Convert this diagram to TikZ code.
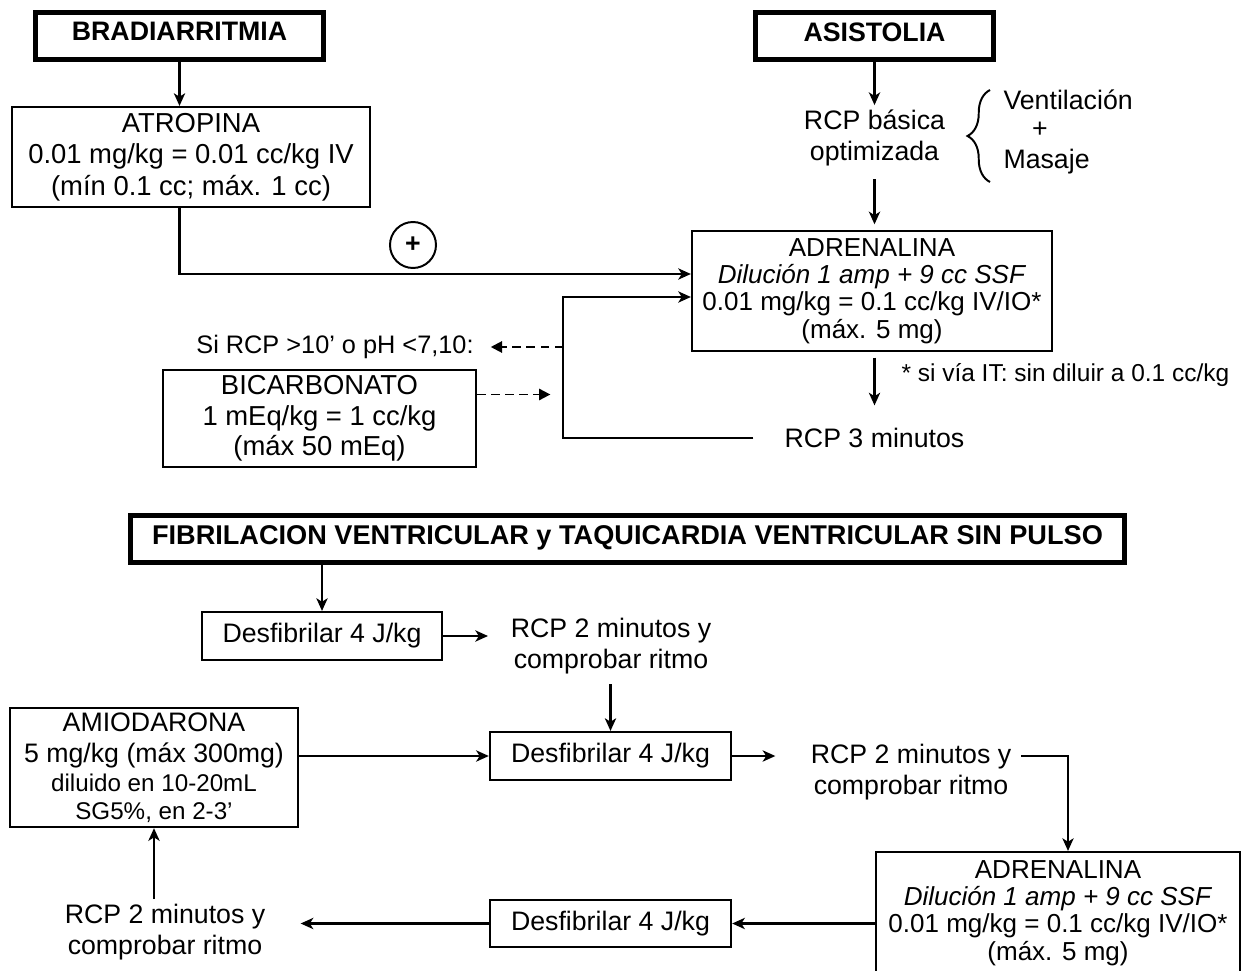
\documentclass[tikz,border=0pt]{standalone}
\usepackage{fontspec}
\setmainfont{Liberation Sans}
\usetikzlibrary{arrows.meta,calc,decorations.pathreplacing}

\tikzset{
	caja/.style={draw, line width=1.5pt, align=center, inner sep=2pt},
	titulo/.style={draw, line width=3.5pt, inner sep=2pt, font=\fontsize{19}{21}\selectfont\bfseries, text depth=6pt},
	texto/.style={align=center, inner sep=3pt},
	flecha/.style={line width=1.5pt, -{Stealth[length=9pt,width=8pt,inset=2.5pt]}},
	discont/.style={line width=1.4pt, dash pattern=on 6pt off 4pt, -{Triangle[length=8pt,width=8pt]}},
	linea/.style={line width=1.4pt},
}

\begin{document}
\begin{tikzpicture}[x=0.025cm, y=-0.025cm, font=\fontsize{19}{22.5}\selectfont]
		\useasboundingbox (0,0) rectangle (1242,971);

		\begin{scope}[every node/.style={titulo}]
			\node[minimum width=7.21cm, minimum height=1.175cm] (bradi) at (179.5,36) {BRADIARRITMIA};
			\node[minimum width=5.95cm, minimum height=1.175cm] (asis) at (874.5,36) {ASISTOLIA};
			\node[minimum width=24.85cm, minimum height=1.175cm, font=\fontsize{19.3}{21}\selectfont\bfseries] (fib) at (627.5,539) {FIBRILACION VENTRICULAR y TAQUICARDIA VENTRICULAR SIN PULSO};
		\end{scope}

		\begin{scope}[every node/.style={caja}]
			\node[minimum width=8.95cm, minimum height=2.5cm, font=\fontsize{19.5}{22.5}\selectfont] (atro) at (191,157) {ATROPINA\\0.01 mg/kg = 0.01 cc/kg IV\\(mín 0.1 cc; máx. 1 cc)};
			\node[minimum width=9cm, minimum height=3cm, font=\fontsize{18.5}{19.5}\selectfont] (adrA) at (872,291) {ADRENALINA\\\textit{Dilución 1 amp + 9 cc SSF}\\0.01 mg/kg = 0.1 cc/kg IV/IO*\\(máx. 5 mg)};
			\node[minimum width=7.83cm, minimum height=2.43cm, font=\fontsize{19.5}{21.5}\selectfont] (bica) at (319.5,418.5) {BICARBONATO\\1 mEq/kg = 1 cc/kg\\(máx 50 mEq)};
			\node[minimum width=6cm, minimum height=1.2cm] (desA) at (322,636) {Desfibrilar 4 J/kg};
			\node[minimum width=6.03cm, minimum height=1.2cm] (desB) at (610.5,756) {Desfibrilar 4 J/kg};
			\node[minimum width=6.03cm, minimum height=1.18cm] (desC) at (610.5,923.5) {Desfibrilar 4 J/kg};
			\node[minimum width=7.2cm, minimum height=2.98cm, font=\fontsize{19}{22}\selectfont] (amio) at (154,767.5) {AMIODARONA\\5 mg/kg (máx 300mg)\\[-1.5pt]{\fontsize{17.2}{19}\selectfont diluido en 10-20mL}\\[-2pt]{\fontsize{17.2}{19}\selectfont SG5\%, en 2-3’}};
			\node[minimum width=9.1cm, minimum height=3.05cm, font=\fontsize{18.5}{19.5}\selectfont] (adrB) at (1058,913) {ADRENALINA\\\textit{Dilución 1 amp + 9 cc SSF}\\0.01 mg/kg = 0.1 cc/kg IV/IO*\\(máx. 5 mg)};
		\end{scope}

		\begin{scope}[every node/.style={texto}]
			\node (rcpb) at (874.5,138) {RCP básica\\optimizada};
			\node[anchor=west] (vent) at (999,100) {Ventilación};
			\node (mas) at (1040,130) {+};
			\node[anchor=west] (masaje) at (999,162) {Masaje};
			\node (rcp3) at (874.5,438) {RCP 3 minutos};
			\node[anchor=west, font=\fontsize{17.4}{20}\selectfont] (nota) at (897,375) {* si vía IT: sin diluir a 0.1 cc/kg};
			\node[font=\fontsize{18}{20}\selectfont] (sircp) at (335,347) {Si RCP >10’ o pH <7,10:};
			\node (rcpA) at (611,646) {RCP 2 minutos y\\comprobar ritmo};
			\node (rcpB) at (911,772) {RCP 2 minutos y\\comprobar ritmo};
			\node (rcpC) at (165,932) {RCP 2 minutos y\\comprobar ritmo};
		\end{scope}

		\node[circle, draw, line width=1.4pt, minimum size=1.15cm, inner sep=0pt, font=\fontsize{19}{21}\selectfont\bfseries] (suma) at (413,245) {+};

		\coordinate (entA) at ($(adrA.west)+(0,-17)$);
		\coordinate (entB) at ($(adrA.west)+(0,6)$);
		\coordinate (vuelta) at (563,438);
		\coordinate (bicaSal) at ($(bica.east)+(0,-24)$);
		\coordinate (adrTop) at ($(adrB.north)+(10,0)$);

		\begin{scope}[every edge/.style={draw, flecha}]
			\path (bradi.south) edge (bradi.south |- atro.north);
			\path (asis.south) edge (asis.south |- rcpb.north);
			\path (rcpb.south) edge[shorten <=6pt, shorten >=4pt] (rcpb.south |- adrA.north);
			\path (adrA.south -| rcp3.north) edge[shorten <=4pt, shorten >=13pt] (rcp3.north);
			\path (fib.south -| desA.north) edge (desA.north);
			\path (desA.east) edge[shorten >=13pt] (desA.east -| rcpA.west);
			\path (rcpA.south -| desB.north) edge[shorten <=4pt] (desB.north);
			\path (amio.east |- desB.west) edge (desB.west);
			\path (desB.east) edge[shorten >=22pt] (desB.east -| rcpB.west);
			\path (adrB.west |- desC.east) edge (desC.east);
			\path (desC.west) edge[shorten >=22pt] (desC.west -| rcpC.east);
			\path (rcpC.north -| amio.south) edge (amio.south);
		\end{scope}

		\draw [flecha] (bradi.south |- atro.south) |- (entA);
		\draw [flecha] ([xshift=-19pt]rcp3.west) -- (vuelta) |- (entB);
		\draw [flecha, shorten <=4pt] (desB.east -| rcpB.east) -| (adrTop);

		\draw [discont, shorten >=9pt] (vuelta |- sircp) -- (sircp.east);
		\draw [discont, shorten >=9pt] (bicaSal) -- (bicaSal -| vuelta);

		\draw [linea, decorate, decoration={brace, amplitude=16pt}] (990,182) -- (990,90);

	\end{tikzpicture}
\end{document}
